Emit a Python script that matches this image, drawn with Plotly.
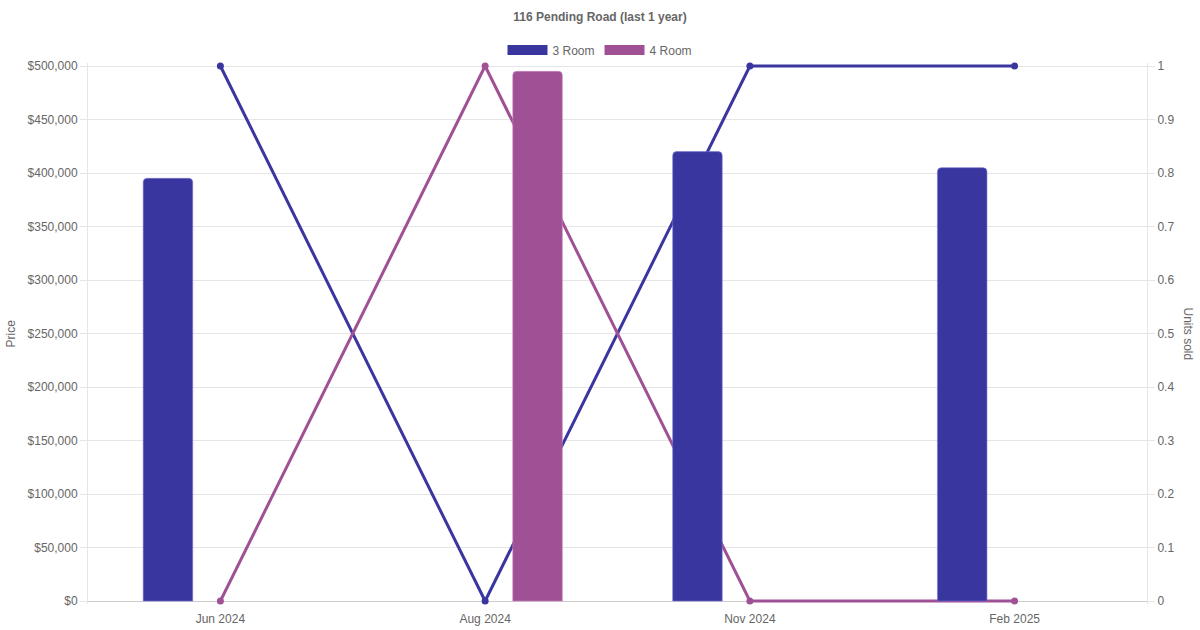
import plotly.graph_objects as go

categories = ["Jun 2024", "Aug 2024", "Nov 2024", "Feb 2025"]
price_3room = [395000, None, 420000, 405000]
price_4room = [None, 495000, None, None]
units_3room = [1, 0, 1, 1]
units_4room = [0, 1, 0, 0]
price_ticks = [0, 50000, 100000, 150000, 200000, 250000, 300000, 350000, 400000, 450000, 500000]
price_tick_labels = ["$" + format(v, ",") for v in price_ticks]
unit_ticks = [0, 0.1, 0.2, 0.3, 0.4, 0.5, 0.6, 0.7, 0.8, 0.9, 1]
unit_tick_labels = ["0", "0.1", "0.2", "0.3", "0.4", "0.5", "0.6", "0.7", "0.8", "0.9", "1"]

C3 = "#3A36A0"
C4 = "#A05195"
FONT = "Liberation Sans, Arial, sans-serif"
GRID = "#e5e5e5"
TXT = "#666666"

PAD = 3          # px of headroom above / below the data area so thick lines are not clipped
PLOT_H = 535     # px between top gridline and baseline
LO = -PAD / PLOT_H
HI = 1 + PAD / PLOT_H
plot_h_total = PLOT_H + 2 * PAD

fig = go.Figure()

# lines (units sold) on base axis y (right side), drawn beneath bars
fig.add_trace(go.Scatter(x=categories, y=units_3room, mode="lines+markers", yaxis="y",
                         line=dict(color=C3, width=3), marker=dict(size=7, color=C3),
                         showlegend=False, cliponaxis=False, hoverinfo="skip"))
fig.add_trace(go.Scatter(x=categories, y=units_4room, mode="lines+markers", yaxis="y",
                         line=dict(color=C4, width=3), marker=dict(size=7, color=C4),
                         showlegend=False, cliponaxis=False, hoverinfo="skip"))

# bars (price) on overlaying axis y2 (left side)
fig.add_trace(go.Bar(x=categories, y=price_3room, yaxis="y2", marker=dict(color=C3, line=dict(width=1, color="rgba(120,116,210,0.6)")),
                     width=0.187, offset=-0.2915, showlegend=False, hoverinfo="skip"))
fig.add_trace(go.Bar(x=categories, y=price_4room, yaxis="y2", marker=dict(color=C4, line=dict(width=1, color="rgba(200,130,190,0.6)")),
                     width=0.187, offset=0.1045, showlegend=False, hoverinfo="skip"))

# legend entries
fig.add_trace(go.Scatter(x=[None], y=[None], mode="lines", name="3 Room", line=dict(color=C3, width=12)))
fig.add_trace(go.Scatter(x=[None], y=[None], mode="lines", name="4 Room", line=dict(color=C4, width=12)))

fig.update_layout(
    width=1200, height=630,
    margin=dict(l=88, r=53, t=66 - PAD, b=29 - PAD),
    paper_bgcolor="white", plot_bgcolor="white",
    font=dict(family=FONT, size=12, color=TXT),
    barcornerradius=4,
    title=dict(text="<b>116 Pending Road (last 1 year)</b>", x=0.5, xanchor="center",
               y=1 - 17 / 630, yanchor="middle", font=dict(size=12, color=TXT, family=FONT)),
    legend=dict(orientation="h", x=(600 - 88) / 1059, xanchor="center",
                y=1 + (66 - PAD - 50) / plot_h_total, yanchor="middle",
                font=dict(size=12, color=TXT), itemwidth=40, bgcolor="rgba(0,0,0,0)"),
    xaxis=dict(type="category", range=[-0.5, 3.5], showgrid=False, showline=False,
               ticks="", ticklabelstandoff=6, tickfont=dict(size=12, color=TXT),
               fixedrange=True, automargin=False),
    yaxis=dict(side="right", range=[LO, HI], tickvals=unit_ticks, ticktext=unit_tick_labels,
               showgrid=True, gridcolor=GRID, zeroline=True, zerolinecolor="#cccccc", zerolinewidth=1,
               showline=True, linecolor=GRID, automargin=False,
               ticks="outside", ticklen=7, tickcolor=GRID, tickfont=dict(size=12, color=TXT)),
    yaxis2=dict(side="left", overlaying="y", range=[500000 * LO, 500000 * HI], tickvals=price_ticks,
                ticktext=price_tick_labels, showgrid=False, zeroline=False, showline=True,
                linecolor=GRID, ticks="outside", ticklen=7, tickcolor=GRID, automargin=False,
                tickfont=dict(size=12, color=TXT)),
    annotations=[
        dict(text="Price", xref="paper", yref="paper", x=-78 / 1059, y=0.5,
             xanchor="center", yanchor="middle", textangle=-90, showarrow=False,
             font=dict(size=12, color=TXT)),
        dict(text="Units sold", xref="paper", yref="paper", x=1 + 41 / 1059, y=0.5,
             xanchor="center", yanchor="middle", textangle=90, showarrow=False,
             font=dict(size=12, color=TXT)),
    ],
)

fig.write_html("out.html", config={"displayModeBar": False},
               post_script="document.body.style.margin='0';document.body.style.padding='0';")
